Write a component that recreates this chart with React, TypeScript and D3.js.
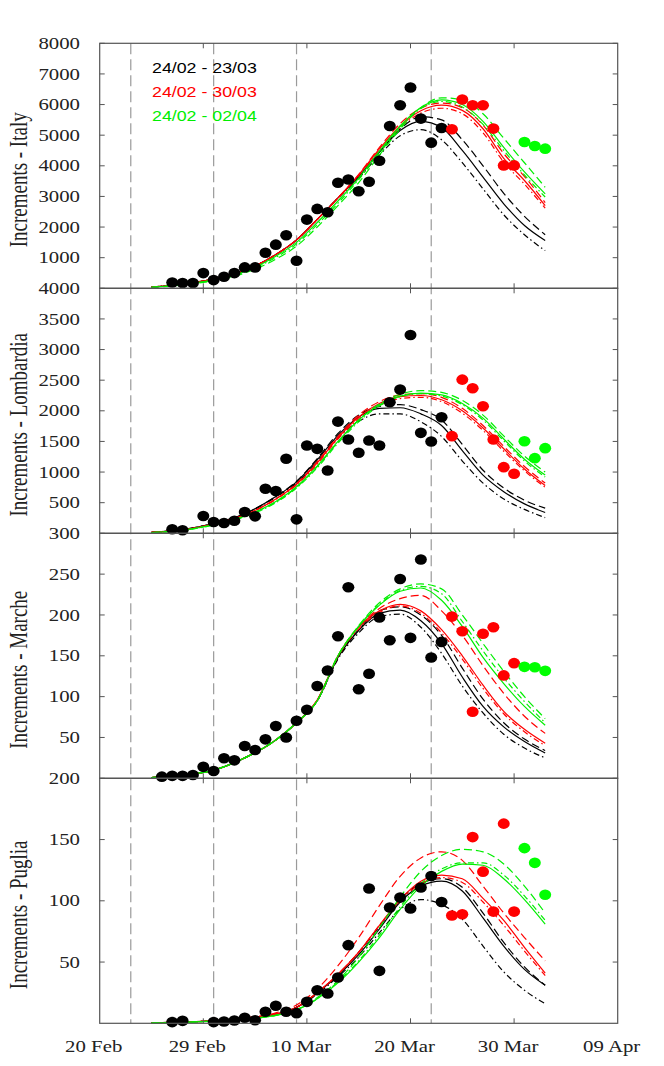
import * as d3 from "d3";

// days counted from 19 Feb 2020 (day 10 = 29 Feb, day 33 = 23 Mar)
const fitDays = [5, 8, 11, 14, 17, 19, 21, 23, 25, 27, 29, 31, 33, 35, 37, 39, 41, 43];
const obsStart = 6;
const redFrom = 34;
const greenFrom = 41;

const xTickDays = [0, 10, 20, 30, 40, 50];
const xTickLabels = ["20 Feb", "29 Feb", "10 Mar", "20 Mar", "30 Mar", "09 Apr"];
const markerDays = [3, 11, 19, 32];
const legendLabels = ["24/02 - 23/03", "24/02 - 30/03", "24/02 - 02/04"];

const regions = ["Italy", "Lombardia", "Marche", "Puglia"];
const yMaxes = [8000, 4000, 300, 200];
const yTicks = [
  [1000, 2000, 3000, 4000, 5000, 6000, 7000, 8000],
  [500, 1000, 1500, 2000, 2500, 3000, 3500, 4000],
  [50, 100, 150, 200, 250, 300],
  [50, 100, 150, 200],
];

// observed daily increments, day 6 .. day 43
const italyObs = [null, 190, 170, 170, 497, 268, 377, 497, 682, 682, 1163, 1425, 1731, 901, 2244, 2593, 2484, 3446, 3555, 3171, 3479, 4166, 5301, 5979, 6557, 5542, 4756, 5236, 5193, 6164, 5979, 5979, 5215, 4013, 4013, 4777, 4646, 4560];
const lombardiaObs = [null, 65, 49, null, 282, 185, 168, 206, 348, 277, 728, 690, 1216, 228, 1434, 1379, 1026, 1824, 1531, 1314, 1515, 1433, 2139, 2346, 3237, 1640, 1499, 1895, 1586, 2509, 2367, 2074, 1531, 1080, 972, 1504, 1227, 1390];
const marcheObs = [2, 3, 3, 4, 14, 9, 24.5, 22, 39.5, 34.6, 47.7, 64, 50, 70.5, 84, 113, 132, 174, 234, 109, 128, 197, 169, 244, 172, 268, 148, 167, 198, 180, 81.5, 177, 185, 126, 141, 136.5, 136, 131.6];
const pugliaObs = [null, 1, 2, null, null, 1, 1.5, 2.3, 4.5, 2.5, 9.4, 14.3, 9.4, 8.3, 17.5, 27, 24.3, 37.4, 63.8, null, 110, 42.8, 94.5, 102.6, 93.7, 110.8, 120.3, 99, 88, 89, 152, 123.8, 91.2, 163, 91.2, 143, 131, 105];

// fitted curves read at fitDays
const itBlackSolid = [40, 140, 300, 580, 1100, 1580, 2250, 2950, 3650, 4450, 5150, 5450, 5250, 4500, 3630, 2760, 2050, 1560];
const itBlackDashed = [40, 140, 300, 580, 1100, 1580, 2250, 2950, 3650, 4450, 5200, 5600, 5500, 4850, 4000, 3100, 2350, 1750];
const itBlackDashDot = [40, 140, 300, 580, 1100, 1580, 2250, 2950, 3600, 4350, 4980, 5180, 4850, 4100, 3250, 2400, 1750, 1230];
const itRedSolid = [40, 140, 300, 580, 1100, 1580, 2250, 2950, 3700, 4550, 5300, 5800, 5980, 5810, 5210, 4240, 3520, 2700];
const itRedDashed = [40, 140, 300, 580, 1100, 1580, 2250, 2950, 3720, 4600, 5380, 5880, 6050, 5900, 5330, 4400, 3650, 2800];
const itRedDashDot = [40, 140, 300, 580, 1100, 1580, 2250, 2950, 3680, 4500, 5250, 5720, 5880, 5700, 5080, 4120, 3400, 2620];
const itGreenSolid = [35, 125, 280, 550, 1050, 1500, 2150, 2850, 3600, 4480, 5300, 5900, 6150, 6000, 5450, 4600, 3800, 3085];
const itGreenDashed = [30, 110, 250, 500, 950, 1380, 2000, 2700, 3450, 4350, 5200, 5900, 6220, 6150, 5700, 4900, 4100, 3300];
const itGreenDashDot = [35, 120, 270, 530, 1010, 1450, 2080, 2780, 3550, 4420, 5250, 5870, 6100, 5920, 5350, 4500, 3700, 2980];

const lmBlackSolid = [15, 60, 160, 320, 600, 840, 1200, 1600, 1900, 2040, 2050, 1950, 1760, 1350, 950, 680, 480, 340];
const lmBlackDashed = [15, 60, 160, 320, 600, 850, 1220, 1630, 1930, 2070, 2100, 2020, 1850, 1450, 1030, 740, 540, 410];
const lmBlackDashDot = [15, 60, 160, 320, 590, 820, 1170, 1560, 1830, 1950, 1950, 1820, 1580, 1180, 820, 560, 390, 256];
const lmRedSolid = [15, 55, 150, 300, 560, 800, 1150, 1560, 1900, 2120, 2230, 2250, 2180, 2000, 1720, 1380, 1050, 780];
const lmRedDashed = [15, 55, 150, 300, 560, 810, 1170, 1580, 1930, 2150, 2260, 2280, 2220, 2040, 1760, 1420, 1090, 820];
const lmRedDashDot = [15, 55, 150, 300, 550, 790, 1130, 1540, 1870, 2090, 2200, 2220, 2150, 1960, 1680, 1340, 1020, 750];
const lmGreenSolid = [12, 50, 140, 280, 520, 760, 1100, 1500, 1850, 2100, 2240, 2290, 2260, 2120, 1880, 1540, 1210, 950];
const lmGreenDashed = [12, 50, 140, 280, 510, 750, 1090, 1490, 1850, 2110, 2270, 2330, 2300, 2170, 1930, 1590, 1260, 1000];
const lmGreenDashDot = [12, 48, 135, 270, 500, 740, 1070, 1470, 1820, 2080, 2230, 2280, 2240, 2100, 1850, 1510, 1180, 920];

const mrBlackSolid = [1, 4, 10, 25, 47, 68, 95, 148, 181, 202, 206, 193, 165, 124, 88, 63, 45, 31];
const mrBlackDashed = [1, 4, 10, 25, 47, 68, 95, 148, 182, 205, 210, 200, 175, 135, 97, 68, 48, 34];
const mrBlackDashDot = [1, 4, 10, 25, 47, 68, 95, 146, 178, 198, 201, 185, 153, 113, 80, 54, 37, 25];
const mrRedSolid = [1, 4, 10, 25, 47, 68, 96, 150, 185, 205, 213, 205, 182, 150, 114, 82, 60, 43];
const mrRedDashed = [1, 4, 10, 25, 47, 68, 96, 150, 186, 208, 220, 224, 205, 175, 138, 104, 76, 55];
const mrRedDashDot = [1, 4, 10, 25, 47, 68, 95, 149, 183, 203, 211, 202, 178, 146, 110, 79, 57, 40];
const mrGreenSolid = [1, 4, 10, 25, 47, 68, 95, 150, 186, 212, 229, 233, 218, 186, 148, 116, 88, 65];
const mrGreenDashed = [1, 4, 10, 25, 47, 68, 95, 150, 187, 215, 232, 238, 232, 200, 165, 131, 100, 73];
const mrGreenDashDot = [1, 4, 10, 25, 47, 68, 95, 150, 186, 213, 230, 235, 226, 192, 156, 123, 94, 68];

const pgBlackSolid = [0.3, 1, 2, 4, 7.5, 13, 25, 39, 56, 77, 99, 112, 116, 108, 86, 63, 44, 31];
const pgBlackDashed = [0.3, 1, 2, 4, 7.5, 13, 25, 40, 58, 79, 101, 114, 118, 111, 90, 66, 46, 31];
const pgBlackDashDot = [0.3, 1, 2, 4, 7.5, 13, 24, 38, 54, 74, 93, 101, 97, 85, 63, 42, 27, 16];
const pgRedSolid = [0.3, 1, 2, 4, 7.5, 13, 25, 40, 58, 80, 101, 116, 121, 118, 102, 84, 62, 41];
const pgRedDashed = [0.3, 1, 2, 4.5, 8.5, 15, 28, 47, 70, 96, 120, 135, 140, 133, 112, 90, 70, 51];
const pgRedDashDot = [0.3, 1, 2, 4, 7.5, 13, 25, 40, 58, 80, 100, 114, 119, 115, 99, 80, 59, 39];
const pgGreenSolid = [0.2, 0.8, 1.8, 3.5, 6.5, 11, 20, 33, 50, 70, 93, 112, 124, 130, 129, 118, 101, 81];
const pgGreenDashed = [0.2, 0.8, 1.8, 3.5, 6.5, 11, 21, 35, 54, 78, 103, 124, 137, 142, 140, 130, 112, 90];
const pgGreenDashDot = [0.2, 0.8, 1.8, 3.5, 6.5, 11, 20, 34, 51, 72, 95, 114, 126, 131, 131, 121, 104, 84];

const colors = ["#000000", "#ff0000", "#00ee00"];
const dotColors = ["#000000", "#ff0000", "#00ff00"];
const dashes = ["none", "8,4", "6,3,1.5,3"];

const observations = [italyObs, lombardiaObs, marcheObs, pugliaObs];
const fits = [
  [[itBlackSolid, itBlackDashed, itBlackDashDot], [itRedSolid, itRedDashed, itRedDashDot], [itGreenSolid, itGreenDashed, itGreenDashDot]],
  [[lmBlackSolid, lmBlackDashed, lmBlackDashDot], [lmRedSolid, lmRedDashed, lmRedDashDot], [lmGreenSolid, lmGreenDashed, lmGreenDashDot]],
  [[mrBlackSolid, mrBlackDashed, mrBlackDashDot], [mrRedSolid, mrRedDashed, mrRedDashDot], [mrGreenSolid, mrGreenDashed, mrGreenDashDot]],
  [[pgBlackSolid, pgBlackDashed, pgBlackDashDot], [pgRedSolid, pgRedDashed, pgRedDashDot], [pgGreenSolid, pgGreenDashed, pgGreenDashDot]],
];

const serif = "'Liberation Serif', 'Times New Roman', serif";
const sans = "'Liberation Sans', Arial, sans-serif";
const stretch = 1.3;

export default function App() {
  const width = 664;
  const height = 1066;
  const left = 99.7;
  const right = 617.7;
  const firstTop = 43.3;
  const panelH = 245;
  const frame = "#555";

  const x = d3.scaleLinear().domain([0, 50]).range([left, right]);
  const plotBottom = firstTop + panelH * regions.length;

  return (
    <svg width={width} height={height} style={{ position: "absolute", left: 0, top: 0, background: "#fff" }}>
      {/* vertical markers through all panels */}
      {markerDays.map((d) => (
        <line key={d} x1={x(d)} x2={x(d)} y1={firstTop} y2={plotBottom} stroke="#9a9a9a" strokeWidth={1.2} strokeDasharray="11,5" />
      ))}

      {regions.map((region, p) => {
        const top = firstTop + p * panelH;
        const bottom = top + panelH;
        const y = d3.scaleLinear().domain([0, yMaxes[p]]).range([bottom, top]);
        const line = d3
          .line<number>()
          .x((_, i) => x(fitDays[i]))
          .y((v) => y(v))
          .curve(d3.curveMonotoneX);
        const obs = observations[p];
        return (
          <g key={region}>
            {fits[p].map((group, c) =>
              group.map((vals, s) => (
                <path key={`${c}-${s}`} d={line(vals) ?? ""} fill="none" stroke={colors[c]} strokeWidth={1.2} strokeDasharray={dashes[s]} />
              ))
            )}
            {obs.map((v, i) => {
              if (v === null) return null;
              const day = obsStart + i;
              const c = day >= greenFrom ? 2 : day >= redFrom ? 1 : 0;
              return <ellipse key={i} cx={x(day)} cy={y(v)} rx={6} ry={5.3} fill={dotColors[c]} />;
            })}
            <rect x={left} y={top} width={right - left} height={panelH} fill="none" stroke={frame} strokeWidth={1.2} />
            {yTicks[p].map((t) => (
              <g key={t}>
                <line x1={left} x2={left + 5} y1={y(t)} y2={y(t)} stroke={frame} />
                <line x1={right - 5} x2={right} y1={y(t)} y2={y(t)} stroke={frame} />
                <text
                  transform={`translate(80,${y(t)}) scale(${stretch},1)`}
                  textAnchor="end"
                  dy="0.35em"
                  fontFamily={serif}
                  fontSize={16}
                  fill="#222"
                >
                  {t}
                </text>
              </g>
            ))}
            {xTickDays.slice(1, -1).map((d) => (
              <g key={d}>
                <line x1={x(d)} x2={x(d)} y1={top} y2={top + 5} stroke={frame} />
                <line x1={x(d)} x2={x(d)} y1={bottom} y2={bottom - 5} stroke={frame} />
              </g>
            ))}
            <text
              transform={`translate(27,${top + panelH / 2 + 14}) scale(${stretch},1) rotate(-90)`}
              textAnchor="middle"
              fontFamily={serif}
              fontSize={19}
              fill="#222"
            >
              {`Increments - ${region}`}
            </text>
          </g>
        );
      })}

      {xTickDays.map((d, i) => (
        <text
          key={d}
          transform={`translate(${x(d) - 6},1052) scale(${stretch},1)`}
          textAnchor="middle"
          fontFamily={serif}
          fontSize={16}
          fill="#222"
        >
          {xTickLabels[i]}
        </text>
      ))}

      {legendLabels.map((label, i) => (
        <text
          key={label}
          transform={`translate(152,${73 + i * 24}) scale(1.27,1)`}
          fontFamily={sans}
          fontSize={14}
          fill={colors[i]}
        >
          {label}
        </text>
      ))}
    </svg>
  );
}
